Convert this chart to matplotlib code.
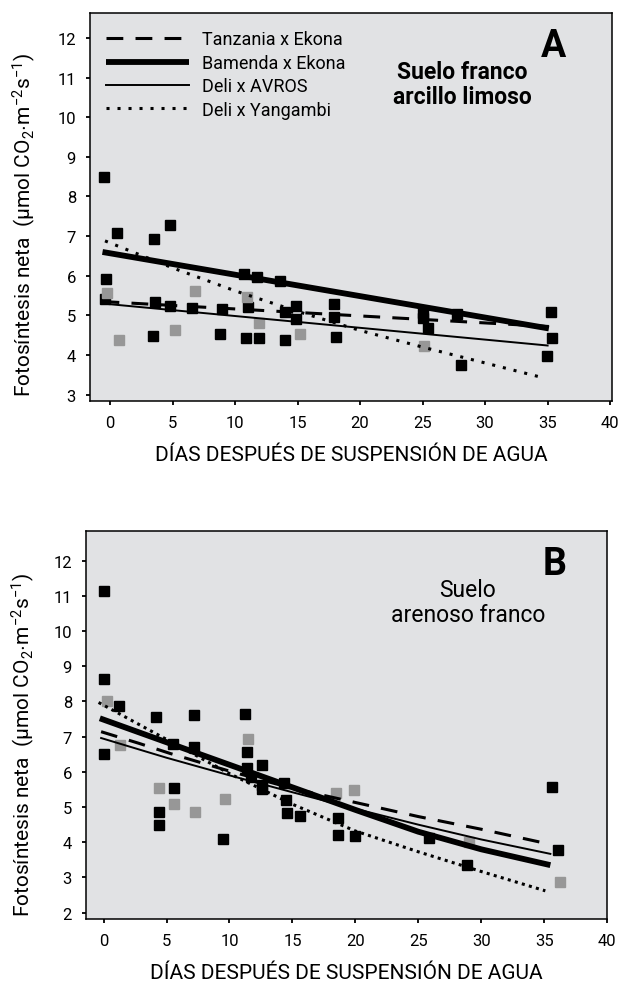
import matplotlib
matplotlib.use('Agg')
import matplotlib.pyplot as plt

plt.rcParams['font.family'] = ['Roboto', 'DejaVu Sans']
plt.rcParams['mathtext.fontset'] = 'custom'
plt.rcParams['mathtext.rm'] = 'Roboto'
plt.rcParams['mathtext.it'] = 'Roboto:italic'
plt.rcParams['mathtext.bf'] = 'Roboto:bold'

# --- Suelo franco arcillo limoso (A) ---
a_black_x = [-0.5, 0.54, -0.31, -0.37, 3.54, 3.63, 3.43, 4.8, 4.8, 6.57, 8.8, 8.97,
             10.69, 10.86, 11.0, 11.74, 11.89, 13.57, 14.0, 14.0, 14.86, 14.86,
             17.91, 17.91, 18.06, 25.0, 25.0, 25.4, 27.77, 28.06, 35.29, 35.37, 34.97]
a_black_y = [8.5, 7.08, 5.93, 5.42, 6.93, 5.33, 4.48, 7.28, 5.23, 5.18, 4.53, 5.17,
             6.05, 4.43, 5.22, 5.96, 4.43, 5.87, 5.08, 4.38, 5.23, 4.92,
             5.29, 4.96, 4.46, 5.06, 4.94, 4.67, 5.03, 3.75, 5.08, 4.42, 3.97]
a_gray_x = [-0.23, 0.71, 5.2, 6.8, 10.94, 11.89, 15.2, 25.14]
a_gray_y = [5.56, 4.37, 4.62, 5.62, 5.46, 4.82, 4.54, 4.24]

a_tanzania_x = [-0.6, 35.1]
a_tanzania_y = [5.35, 4.72]
a_bamenda_x = [-0.6, 35.1]
a_bamenda_y = [6.6, 4.67]
a_avros_x = [-0.6, 35.0]
a_avros_y = [5.30, 4.24]
a_yangambi_x = [-0.4, 5, 10, 15, 20, 25, 30, 34.6]
a_yangambi_y = [6.88, 6.2, 5.62, 5.1, 4.62, 4.2, 3.8, 3.43]

# --- Suelo arenoso franco (B) ---
b_black_x = [0.06, 0.06, 0.06, 1.23, 4.2, 4.43, 4.43, 5.51, 5.57, 7.17, 7.17, 9.46,
             11.23, 11.37, 11.37, 11.74, 12.6, 12.6, 12.6, 14.37, 14.49, 14.6, 15.63,
             18.66, 18.66, 19.94, 25.86, 28.86, 35.63, 36.14]
b_black_y = [11.15, 8.65, 6.5, 7.88, 7.55, 4.87, 4.49, 6.78, 5.53, 7.6, 6.71, 4.09,
             7.65, 6.56, 6.12, 5.85, 6.18, 5.62, 5.5, 5.69, 5.2, 4.83, 4.75,
             4.69, 4.21, 4.19, 4.11, 3.34, 5.57, 3.79]
b_gray_x = [0.29, 1.29, 4.37, 5.57, 7.29, 9.63, 11.46, 18.49, 19.86, 29.0, 36.23]
b_gray_y = [8.0, 6.76, 5.53, 5.08, 4.86, 5.22, 6.92, 5.39, 5.49, 4.0, 2.86]

b_tanzania_x = [-0.2, 2.8, 5.3, 10, 15, 20, 25, 30, 35.5]
b_tanzania_y = [7.14, 6.81, 6.52, 6.02, 5.53, 5.13, 4.73, 4.37, 3.94]
b_bamenda_x = [-0.3, 5, 10, 15, 20, 25, 30, 35.5]
b_bamenda_y = [7.52, 6.84, 6.2, 5.56, 4.92, 4.3, 3.8, 3.35]
b_avros_x = [-0.2, 5, 10, 15, 20, 25, 30, 35.5]
b_avros_y = [6.96, 6.4, 5.9, 5.42, 4.95, 4.5, 4.08, 3.67]
b_yangambi_x = [-0.4, 5, 10, 15, 20, 25, 30, 35.1]
b_yangambi_y = [7.97, 6.92, 5.95, 5.08, 4.32, 3.73, 3.17, 2.62]

series_names = ['Tanzania x Ekona', 'Bamenda x Ekona', 'Deli x AVROS', 'Deli x Yangambi']
x_ticks = [0, 5, 10, 15, 20, 25, 30, 35, 40]

BG = '#e1e2e4'
GRAY = '#979797'
XLABEL = 'DÍAS DESPUÉS DE SUSPENSIÓN DE AGUA'
YLABEL = r'Fotosíntesis neta  (µmol CO$_2$$\cdot$m$^{-2}$s$^{-1}$)'

fig = plt.figure(figsize=(6.21, 9.87), dpi=100)
ax_a = fig.add_axes([90 / 621, 1 - 402 / 987, 522 / 621, 388 / 987])
ax_b = fig.add_axes([86 / 621, 1 - 920 / 987, 521 / 621, 388 / 987])


def style_axes(ax, yticks):
    ax.set_facecolor(BG)
    for sp in ax.spines.values():
        sp.set_linewidth(1.1)
        sp.set_color('black')
    ax.set_xticks(x_ticks)
    ax.set_yticks(yticks)
    ax.tick_params(direction='out', length=3, width=1.3, pad=7, labelsize=12)
    ax.set_xlabel(XLABEL, fontsize=15, labelpad=11)
    ax.set_ylabel(YLABEL, fontsize=15)


def draw_panel(ax, bx, by, gx, gy, lines, dot_gap):
    ax.plot(bx, by, 's', color='black', markersize=6.7, zorder=3)
    ax.plot(gx, gy, 's', color=GRAY, markersize=6.7, zorder=3)
    (tx, ty), (mx, my), (vx, vy), (yx, yy) = lines
    h1, = ax.plot(tx, ty, color='black', lw=2.2, dashes=(5.5, 4), zorder=4)
    h2, = ax.plot(mx, my, color='black', lw=4.2, solid_capstyle='butt', zorder=4)
    h3, = ax.plot(vx, vy, color='black', lw=1.4, zorder=4)
    h4, = ax.plot(yx, yy, color='black', lw=2.2, dashes=(1, dot_gap), zorder=4)
    return [h1, h2, h3, h4]


handles = draw_panel(ax_a, a_black_x, a_black_y, a_gray_x, a_gray_y,
                     [(a_tanzania_x, a_tanzania_y), (a_bamenda_x, a_bamenda_y),
                      (a_avros_x, a_avros_y), (a_yangambi_x, a_yangambi_y)], 2.6)
draw_panel(ax_b, b_black_x, b_black_y, b_gray_x, b_gray_y,
           [(b_tanzania_x, b_tanzania_y), (b_bamenda_x, b_bamenda_y),
            (b_avros_x, b_avros_y), (b_yangambi_x, b_yangambi_y)], 1.4)

style_axes(ax_a, range(3, 13))
ax_a.set_xlim(-1.6, 40.15)
ax_a.set_ylim(2.84, 12.63)
ax_a.yaxis.set_label_coords(-0.1, 0.455)

style_axes(ax_b, range(2, 13))
ax_b.set_xlim(-1.4, 40.0)
ax_b.set_ylim(1.82, 12.84)
ax_b.yaxis.set_label_coords(-0.095, 0.45)

ax_a.legend(handles, series_names, loc='upper left', bbox_to_anchor=(0.03, 0.955),
            frameon=False, fontsize=13, handlelength=4.6, handletextpad=0.75,
            labelspacing=0.3, borderaxespad=0, borderpad=0)

ax_a.text(0.887, 0.915, 'A', transform=ax_a.transAxes, fontsize=27,
          fontweight='bold', ha='center', va='center')
ax_a.text(0.713, 0.85, 'Suelo franco', transform=ax_a.transAxes, fontsize=16.5,
          fontweight='bold', ha='center', va='center')
ax_a.text(0.713, 0.786, 'arcillo limoso', transform=ax_a.transAxes, fontsize=16.5,
          fontweight='bold', ha='center', va='center')

ax_b.text(0.90, 0.915, 'B', transform=ax_b.transAxes, fontsize=27,
          fontweight='bold', ha='center', va='center')
ax_b.text(0.733, 0.85, 'Suelo', transform=ax_b.transAxes, fontsize=16.5,
          ha='center', va='center')
ax_b.text(0.733, 0.786, 'arenoso franco', transform=ax_b.transAxes, fontsize=16.5,
          ha='center', va='center')

fig.savefig('out.png', dpi=100)
